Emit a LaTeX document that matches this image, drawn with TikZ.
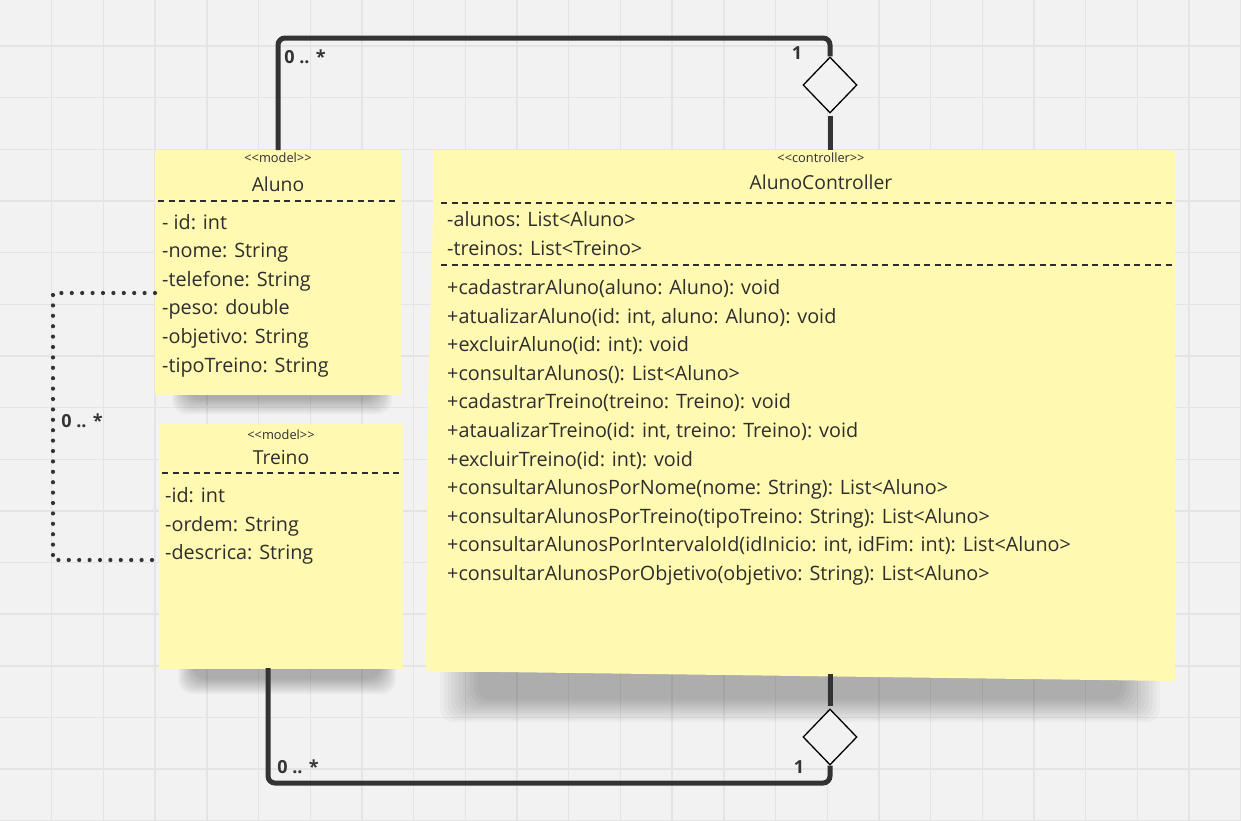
\documentclass[tikz,border=0pt]{standalone}
\usepackage{fontspec}
\setmainfont{Open Sans}[Ligatures=TeXOff]
\usetikzlibrary{shapes.geometric}
\definecolor{bg}{HTML}{F2F2F2}
\definecolor{gridc}{HTML}{E4E4E4}
\definecolor{sticky}{HTML}{FFF9B1}
\definecolor{ink}{HTML}{333333}
\definecolor{txt}{HTML}{2E2E2E}
\begin{document}
\begin{tikzpicture}[x=1pt,y=-1pt,
  note/.style={fill=sticky, draw=none, anchor=north west, inner sep=0, outer sep=0},
  stereo/.style={font=\fontsize{12.8}{15}\selectfont, text=txt, anchor=base, inner sep=0},
  ctitle/.style={font=\fontsize{19.3}{22}\selectfont, text=txt, anchor=base, inner sep=0},
  member/.style={font=\fontsize{19.8}{23}\selectfont, text=txt, anchor=base west, inner sep=0},
  sepline/.style={draw=txt, line width=1.1, dash pattern=on 6 off 4.5},
  assoc/.style={draw=ink, line width=5, rounded corners=7},
  dotline/.style={draw=ink, line width=4.2, line cap=round, dash pattern=on 0 off 10.4},
  mult/.style={font=\bfseries\fontsize{18}{21}\selectfont, text=ink, inner sep=0},
  agg/.style={diamond, draw=black, line width=1.3, fill=bg, minimum width=54, minimum height=56, inner sep=0, aspect=1},
  shadowlayer/.style={fill=black, fill opacity=0.028, draw=none, rounded corners=14}
]
% background and grid
\fill[bg] (0,0) rectangle (1241,820);
\useasboundingbox (0,0) rectangle (1241,820);
\foreach \i in {1,...,24} {\draw[gridc, line width=1.4] (\i*51.7,0) -- (\i*51.7,820);}
\foreach \j in {0,...,15} {\draw[gridc, line width=1.4] (0,46+\j*51.65) -- (1241,46+\j*51.65);}

% shadows (layered soft)
\foreach \s in {0,1.5,...,15} {
  \fill[shadowlayer] (172+\s,370) rectangle (392-\s,414-\s);
  \fill[shadowlayer] (178+\s,640) rectangle (396-\s,694-\s);
  \fill[shadowlayer] (440+\s*2.5,650) rectangle (1160-\s*2.5,722-\s*1.5);
}

% notes
\node[note, minimum width=246, minimum height=245] (aluno) at (155,150) {};
\node[note, minimum width=244, minimum height=245] (treino) at (159,424) {};
\node[note, minimum width=742, minimum height=522] (ctrl) at (433,150) {};
\fill[sticky] (439,150) -- (433,215) -- (428,400) -- (426,671) -- (1175,681) -- (1176,600) -- (1176,525) -- (1175,520) -- (1175,660) -- (439,660) -- cycle;

% Aluno
\node[stereo] (alunost) at (278,162) {<<model>>};
\node[ctitle] (alunot) at (278,191) {Aluno};
\draw[sepline] (158,201) -- (399,201);
\foreach \t [count=\k from 0] in {- id: int,-nome: String,-telefone: String,-peso: double,-objetivo: String,-tipoTreino: String}
  {\node[member] (am\k) at (162,229+\k*28.6) {\t};}

% Treino
\node[stereo] (treinost) at (281,439) {<<model>>};
\node[ctitle] (treinot) at (281,464) {Treino};
\draw[sepline] (162,473) -- (401,473);
\foreach \t [count=\k from 0] in {-id: int,-ordem: String,-descrica: String}
  {\node[member] (tm\k) at (165,502.5+\k*28.6) {\t};}

% Controller
\node[stereo] (ctrlst) at (821,162) {<<controller>>};
\node[ctitle] (ctrlt) at (821,189) {AlunoController};
\draw[sepline] (441,203) -- (1172,203);
\node[member] (ca0) at (447,226.5) {-alunos: List<Aluno>};
\node[member] (ca1) at (447,255) {-treinos: List<Treino>};
\draw[sepline] (441,265) -- (1172,265);
\foreach \t [count=\k from 0] in {%
  +cadastrarAluno(aluno: Aluno): void,
  {+atualizarAluno(id: int, aluno: Aluno): void},
  +excluirAluno(id: int): void,
  +consultarAlunos(): List<Aluno>,
  +cadastrarTreino(treino: Treino): void,
  {+ataualizarTreino(id: int, treino: Treino): void},
  +excluirTreino(id: int): void,
  +consultarAlunosPorNome(nome: String): List<Aluno>,
  +consultarAlunosPorTreino(tipoTreino: String): List<Aluno>,
  {+consultarAlunosPorIntervaloId(idInicio: int, idFim: int): List<Aluno>},
  +consultarAlunosPorObjetivo(objetivo: String): List<Aluno>}
  {\node[member] (cm\k) at (447,294.5+\k*28.6) {\t};}

% aggregation diamonds
\node[agg] (d1) at (830,85) {};
\node[agg] (d2) at (830,737) {};

% connectors
\coordinate (toprail) at (0,38);
\coordinate (botrail) at (0,783);
\coordinate (tb) at (268,668);
\coordinate (cb) at (0,674);
\draw[assoc] (aluno.north) -- (aluno.north |- toprail) -| (d1.north);
\draw[draw=ink, line width=5] ([yshift=-2]d1.south) -- (d1.south |- ctrl.north);
\draw[draw=ink, line width=5] (d2.north |- cb) -- ([yshift=2]d2.north);
\draw[assoc] (tb) -- (tb |- botrail) -| (d2.south);

\coordinate (dy1) at (0,293);
\coordinate (dy2) at (0,560);
\draw[dotline] (aluno.west |- dy1) -- (53,293) -- (53,560) -- (treino.west |- dy2);

% multiplicities
\node[mult] (m1) at (305,57) {0 .. *};
\node[mult] (m2) at (797,53) {1};
\node[mult] (m3) at (298,767) {0 .. *};
\node[mult] (m4) at (799,767) {1};
\node[mult] (m5) at (82,421) {0 .. *};
\end{tikzpicture}
\end{document}
